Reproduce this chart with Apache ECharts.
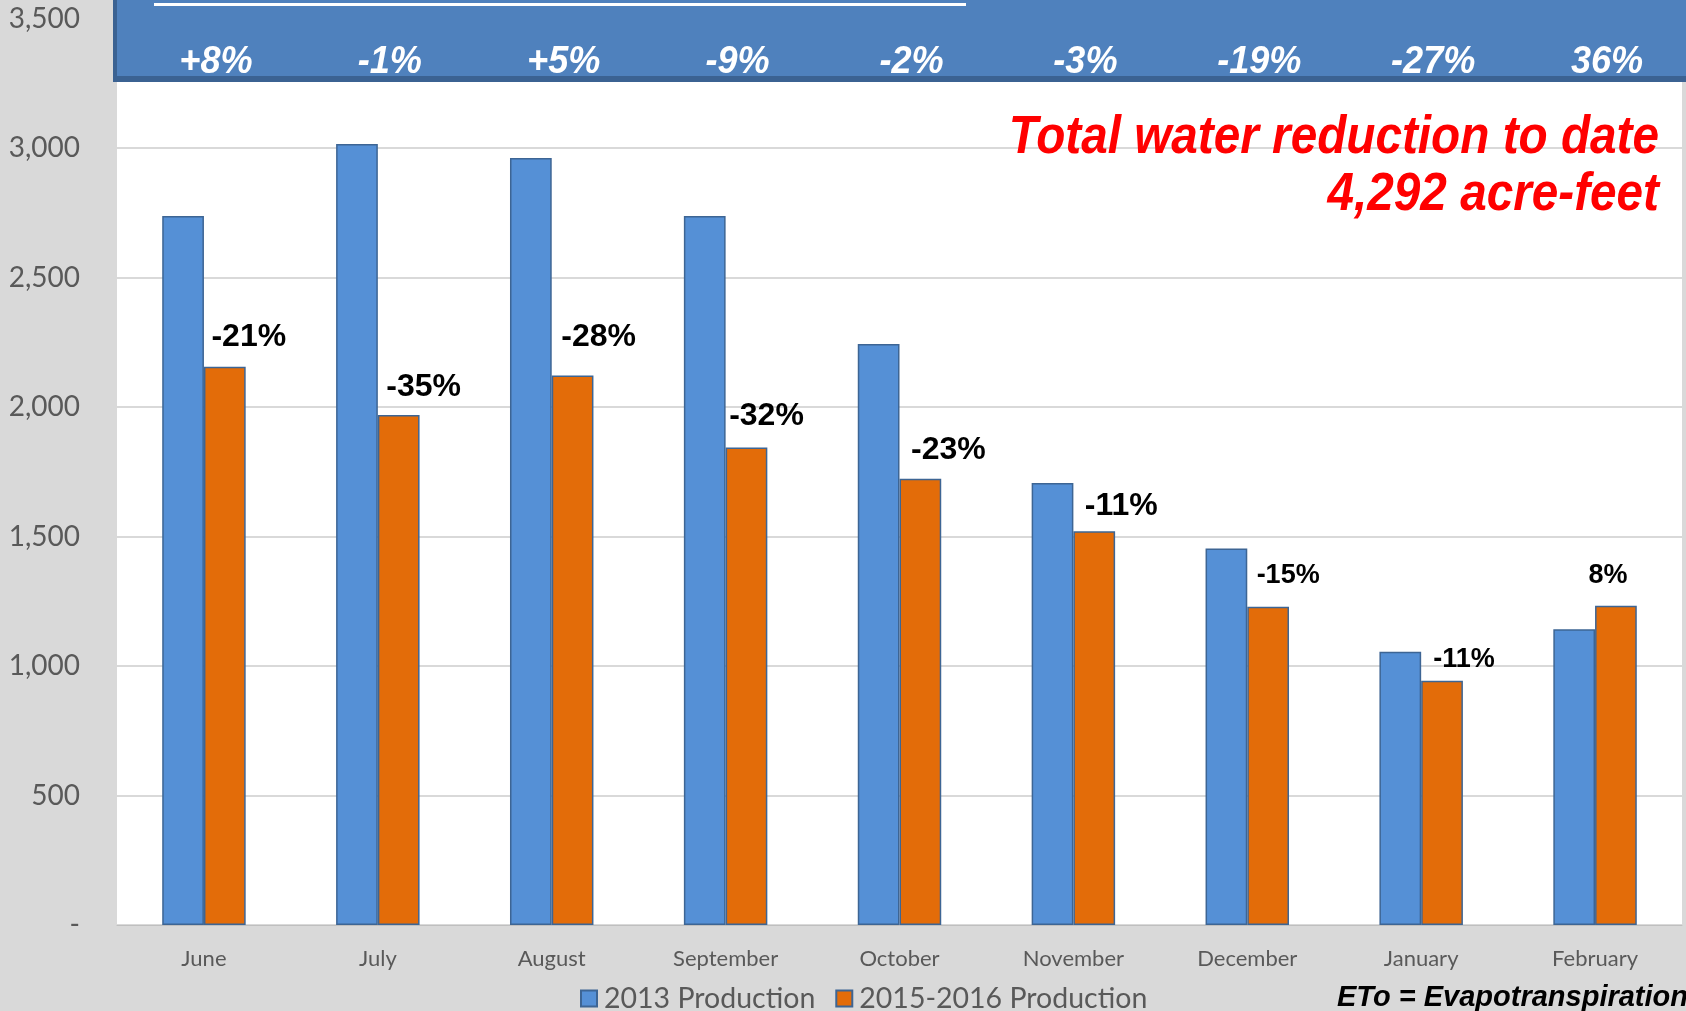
<!DOCTYPE html>
<html>
<head>
<meta charset="utf-8">
<script src="https://cdn.jsdelivr.net/npm/echarts@6/dist/echarts.min.js"></script>
<style>
  html, body { margin: 0; padding: 0; background: #d9d9d9; }
  #chart { width: 1686px; height: 1011px; }
</style>
</head>
<body>
<div id="chart"></div>
<script>
// months on the x axis
const months = ['June', 'July', 'August', 'September', 'October', 'November', 'December', 'January', 'February']
// acre-feet produced per month
const prod2013 = [2737, 3015, 2961, 2737, 2243, 1707, 1454, 1055, 1142]
const prod2016 = [2155, 1969, 2122, 1844, 1723, 1520, 1229, 943, 1233]
// change vs 2013, printed over the orange bars
const changeLabels = ['-21%', '-35%', '-28%', '-32%', '-23%', '-11%', '-15%', '-11%', '8%']
// ETo change, printed in the blue banner
const etoLabels = ['+8%', '-1%', '+5%', '-9%', '-2%', '-3%', '-19%', '-27%', '36%']

// label placement tweaks (dx, dy, font size), per month
const labelTweaks = [
  [24, -14, 32], [25, -12, 32], [26, -22, 32], [20, -15, 32], [28, -13, 32],
  [27, -9, 32], [20, -18, 27], [22, -8, 27], [-8, -17, 27]
]

const blue = '#5590d6'
const orange = '#e36c09'
const edge = '#3d6594'

const myChart = echarts.init(document.getElementById('chart'))

const option = {
  backgroundColor: '#d9d9d9',
  animation: false,
  grid: {
    left: 117, right: 4, top: 18.5, bottom: 86,
    show: true, backgroundColor: '#ffffff', borderWidth: 0
  },
  legend: {
    left: 575, top: 979,
    icon: 'rect',
    itemWidth: 16, itemHeight: 16, itemGap: 20,
    textStyle: { fontFamily: 'Lato', fontSize: 28.5, color: '#595959', padding: [0, 0, 0, 2] },
    data: ['2013 Production', '2015-2016 Production']
  },
  xAxis: {
    type: 'category',
    data: months,
    axisLine: { lineStyle: { color: '#bfbfbf', width: 1 } },
    axisTick: { show: false },
    axisLabel: { fontFamily: 'Lato', fontSize: 22, color: '#595959', margin: 23 }
  },
  yAxis: {
    type: 'value',
    min: 0, max: 3500, interval: 500,
    axisLine: { show: false },
    axisTick: { show: false },
    splitLine: { lineStyle: { color: '#d9d9d9', width: 2 } },
    axisLabel: {
      fontFamily: 'Lato', fontSize: 28, color: '#595959', margin: 37,
      formatter: v => v === 0 ? '-' : v.toLocaleString('en-US')
    }
  },
  series: [
    {
      name: '2013 Production',
      type: 'bar',
      data: prod2013,
      barGap: '0%',
      barCategoryGap: '52%',
      itemStyle: { color: blue, borderColor: edge, borderWidth: 1.5 }
    },
    {
      name: '2015-2016 Production',
      type: 'bar',
      data: prod2016.map((v, i) => ({
        value: v,
        label: {
          offset: [labelTweaks[i][0], labelTweaks[i][1]],
          fontSize: labelTweaks[i][2]
        }
      })),
      itemStyle: { color: orange, borderColor: edge, borderWidth: 1.5 },
      label: {
        show: true,
        position: 'top',
        distance: 0,
        fontFamily: 'Liberation Sans',
        fontWeight: 'bold',
        color: '#000',
        formatter: p => changeLabels[p.dataIndex]
      }
    }
  ]
}

myChart.setOption(option)

// banner + annotations, x positions taken from the category axis
const bannerTexts = etoLabels.map((t, i) => ({
  type: 'text',
  z: 110,
  x: myChart.convertToPixel({ xAxisIndex: 0 }, i) + 12,
  y: 63,
  scaleX: 0.95,
  style: {
    text: t, fill: '#ffffff', align: 'center', verticalAlign: 'middle',
    font: 'italic bold 38px "Liberation Sans"'
  }
}))

myChart.setOption({
  graphic: [
    { type: 'rect', z: 100, shape: { x: 113, y: 0, width: 1573, height: 82 }, style: { fill: '#3b6292' } },
    { type: 'rect', z: 101, shape: { x: 117, y: 0, width: 1569, height: 76 }, style: { fill: '#4f81bd' } },
    { type: 'rect', z: 102, shape: { x: 154, y: 3, width: 812, height: 3 }, style: { fill: '#ffffff' } },
    ...bannerTexts,
    {
      type: 'text', z: 110, x: 1659, y: 138, scaleX: 0.9,
      style: {
        text: 'Total water reduction to date', fill: '#ff0000', align: 'right', verticalAlign: 'middle',
        font: 'italic bold 53px "Liberation Sans"'
      }
    },
    {
      type: 'text', z: 110, x: 1659, y: 195, scaleX: 0.9,
      style: {
        text: '4,292 acre-feet', fill: '#ff0000', align: 'right', verticalAlign: 'middle',
        font: 'italic bold 53px "Liberation Sans"'
      }
    },
    {
      type: 'text', z: 110, x: 1337, y: 998,
      style: {
        text: 'ETo = Evapotranspiration', fill: '#000000', align: 'left', verticalAlign: 'middle',
        font: 'italic bold 29px "Liberation Sans"'
      }
    }
  ]
})
</script>
</body>
</html>
